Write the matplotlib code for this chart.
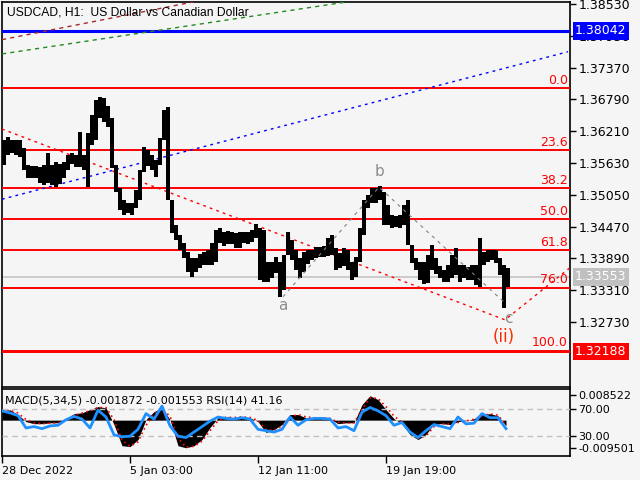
import numpy as np
import matplotlib
matplotlib.use("Agg")
import matplotlib.pyplot as plt
from matplotlib.transforms import blended_transform_factory

plt.rcParams["font.family"] = ["DejaVu Sans"]

BG = "#f5f5f5"

# USDCAD H1, bars grouped by 4 hours, starting 28 Dec 2022
group_size = 4
high = [1.3605, 1.3610, 1.3605, 1.3605, 1.3605, 1.3590, 1.3559, 1.3558, 1.3558, 1.3556,
        1.3559, 1.3581, 1.3559, 1.3565, 1.3561, 1.3565, 1.3578, 1.3581, 1.3578, 1.3620,
        1.3578, 1.3618, 1.3651, 1.3678, 1.3683, 1.3682, 1.3667, 1.3645, 1.3559, 1.3517,
        1.3496, 1.3490, 1.3490, 1.3514, 1.3550, 1.3592, 1.3587, 1.3578, 1.3569, 1.3609,
        1.3660, 1.3665, 1.3496, 1.3450, 1.3432, 1.3417, 1.3401, 1.3390, 1.3390, 1.3397,
        1.3401, 1.3404, 1.3417, 1.3441, 1.3445, 1.3437, 1.3439, 1.3437, 1.3435, 1.3437,
        1.3437, 1.3437, 1.3441, 1.3452, 1.3445, 1.3441, 1.3382, 1.3382, 1.3392, 1.3382,
        1.3395, 1.3437, 1.3423, 1.3404, 1.3390, 1.3401, 1.3404, 1.3404, 1.3410, 1.3410,
        1.3412, 1.3426, 1.3432, 1.3408, 1.3399, 1.3408, 1.3404, 1.3382, 1.3392, 1.3445,
        1.3496, 1.3505, 1.3517, 1.3517, 1.3521, 1.3510, 1.3486, 1.3468, 1.3466, 1.3468,
        1.3486, 1.3496, 1.3413, 1.3390, 1.3382, 1.3382, 1.3395, 1.3413, 1.3390, 1.3375,
        1.3368, 1.3377, 1.3395, 1.3408, 1.3377, 1.3377, 1.3373, 1.3377, 1.3377, 1.3426,
        1.3401, 1.3404, 1.3404, 1.3404, 1.3390, 1.3377, 1.3372]
low = [1.3559, 1.3578, 1.3581, 1.3578, 1.3574, 1.3550, 1.3536, 1.3536, 1.3536, 1.3527,
       1.3523, 1.3527, 1.3523, 1.3519, 1.3525, 1.3536, 1.3550, 1.3561, 1.3556, 1.3556,
       1.3550, 1.3519, 1.3596, 1.3605, 1.3645, 1.3638, 1.3629, 1.3554, 1.3510, 1.3477,
       1.3468, 1.3472, 1.3468, 1.3481, 1.3496, 1.3547, 1.3558, 1.3550, 1.3538, 1.3559,
       1.3605, 1.3496, 1.3435, 1.3423, 1.3404, 1.3390, 1.3364, 1.3355, 1.3364, 1.3372,
       1.3377, 1.3377, 1.3377, 1.3382, 1.3417, 1.3412, 1.3415, 1.3415, 1.3408, 1.3408,
       1.3417, 1.3415, 1.3419, 1.3426, 1.3350, 1.3346, 1.3346, 1.3353, 1.3362, 1.3319,
       1.3331, 1.3395, 1.3386, 1.3368, 1.3353, 1.3364, 1.3379, 1.3386, 1.3390, 1.3392,
       1.3392, 1.3393, 1.3395, 1.3368, 1.3372, 1.3375, 1.3368, 1.3350, 1.3355, 1.3382,
       1.3432, 1.3481, 1.3490, 1.3490, 1.3496, 1.3450, 1.3450, 1.3445, 1.3446, 1.3445,
       1.3450, 1.3413, 1.3381, 1.3368, 1.3350, 1.3342, 1.3344, 1.3368, 1.3361, 1.3353,
       1.3346, 1.3346, 1.3353, 1.3359, 1.3346, 1.3353, 1.3350, 1.3350, 1.3341, 1.3337,
       1.3377, 1.3382, 1.3386, 1.3381, 1.3359, 1.3298, 1.3337]

# indicator window, one reading every 8 bars
ind_step = 8
macd_x1000 = [3.2, 3.5, 1.9, -0.5, -1.2, -1.2, -0.9, -0.9, 0.5, 2.2,
              2.5, 3.6, 4.6, 4.2, -1.5, -8.7, -9.0, -6.6, 0.2, 2.9,
              4.2, 0.2, -8.7, -9.4, -8.7, -6.6, -2.5, 0.8, 1.2, 0.8,
              1.2, 0.8, -0.5, -4.2, -3.2, -1.5, 1.9, 1.9, 0.8, 0.8,
              0.8, 0.5, -1.2, -0.9, -0.9, 5.3, 8.3, 7.0, 3.6, 0.5,
              -1.2, -4.9, -6.6, -4.9, -1.2, -1.2, -1.5, -0.5, -0.2, 0.5,
              1.9, 2.2, 1.5, -1.9]
signal_x1000 = [3.0, 3.4, 2.4, 0.2, -0.9, -1.2, -1.0, -0.9, 0.1, 1.6,
                2.4, 3.2, 4.3, 4.3, 0.2, -6.8, -8.9, -7.4, -1.8, 2.0,
                3.8, 1.4, -6.2, -9.2, -8.9, -7.2, -3.6, -0.2, 1.0, 0.9,
                1.1, 0.9, -0.1, -3.2, -3.5, -2.0, 1.0, 1.9, 1.1, 0.8,
                0.8, 0.6, -0.7, -1.0, -0.9, 3.6, 7.6, 7.4, 4.6, 1.4,
                -0.7, -3.9, -6.1, -5.4, -2.2, -1.2, -1.4, -0.8, -0.3, 0.3,
                1.5, 2.1, 1.7, -1.6]
rsi = [67, 64, 60, 42, 44, 41, 45, 46, 54, 59,
       55, 42, 68, 58, 32, 29, 30, 40, 63, 55,
       74, 45, 30, 28, 36, 44, 52, 58, 56, 55,
       57, 55, 40, 38, 36, 40, 58, 46, 54, 56,
       56, 55, 42, 44, 38, 65, 72, 67, 60, 46,
       50, 36, 28, 38, 47, 44, 41, 58, 48, 49,
       63, 57, 57, 41]

price_ticks = [1.38530, 1.37950, 1.37370, 1.36790, 1.36210, 1.35630,
               1.35050, 1.34470, 1.33890, 1.33310, 1.32730]
time_ticks = [0, 128, 256, 384]
time_labels = ["28 Dec 2022", "5 Jan 03:00", "12 Jan 11:00", "19 Jan 19:00"]

fib_levels = [0.0, 23.6, 38.2, 50.0, 61.8, 76.0, 100.0]
fib_start = 1.36998
fib_end = 1.32210
blue_level = 1.38042
red_level = 1.32188
last_price = 1.33553

# trend lines as (bars, prices)
brown_line = ([0, 300], [1.3788, 1.3896])
green_line = ([0, 400], [1.3762, 1.3872])
blue_line = ([0, 566], [1.3497, 1.3766])
red_channel = ([0, 503, 570], [1.3625, 1.3277, 1.3375])
wave_abc = ([281, 377, 504], [1.3319, 1.3519, 1.3306])
wave_labels = [("a", 281, 1.3304), ("b", 377, 1.3547), ("c", 506, 1.3280)]

fig = plt.figure(figsize=(6.4, 4.8), dpi=100, facecolor=BG)
ax = fig.add_axes([2 / 640, 1 - 387 / 480, 568 / 640, 385 / 480], facecolor=BG)
ax2 = fig.add_axes([2 / 640, 1 - 456 / 480, 568 / 640, 67 / 480], facecolor=BG)

# price bars
bars_x = np.arange(len(high)) * group_size
hi = np.array(high)
lo = np.array(low)
ax.bar(bars_x, hi - lo, bottom=lo, width=group_size, align="edge",
       color="black", linewidth=0, zorder=4)

# levels
fib_prices = [fib_start - lv / 100 * (fib_start - fib_end) for lv in fib_levels]
trans = blended_transform_factory(ax.transAxes, ax.transData)
for lv, p in zip(fib_levels, fib_prices):
    ax.axhline(p, color="#ff0000", lw=1.4, zorder=3)
    ax.text(0.996, p + 0.0002, f"{lv:.1f}", color="#ff0000", fontsize=9,
            ha="right", va="bottom", transform=trans, zorder=6)
ax.axhline(red_level, color="#ff0000", lw=1.4, zorder=3)
ax.axhline(blue_level, color="#0000ff", lw=2.2, zorder=3)
ax.axhline(last_price, color="#c0c0c0", lw=1.1, zorder=2)

ax.plot(*brown_line, color="#a52a2a", lw=1, ls=(0, (3, 3)), zorder=3)
ax.plot(*green_line, color="#228b22", lw=1, ls=(0, (3, 3)), zorder=3)
ax.plot(*blue_line, color="#0000ff", lw=1, ls=(0, (2, 3)), zorder=3)
ax.plot(*red_channel, color="#ff0000", lw=1, ls=(0, (2, 3)), zorder=3)
ax.plot(*wave_abc, color="#808080", lw=0.8, ls=(0, (3, 4)), zorder=5)

for txt, bx, py in wave_labels:
    ax.text(bx, py, txt, color="#8c8c8c", fontsize=11, ha="center", va="center", zorder=6)
ax.text(502, 1.3246, "(ii)", color="#ff2a00", fontsize=12, ha="center", va="center", zorder=6)

ax.text(0.008, 0.972, "USDCAD, H1:  US Dollar vs Canadian Dollar", transform=ax.transAxes,
        fontsize=8.7, family="Liberation Sans", ha="left", va="center", zorder=6)

ax.set_xlim(0, 568)
ax.set_ylim(1.31545, 1.38567)
ax.set_xticks([])
ax.yaxis.tick_right()
ax.set_yticks(price_ticks)
ax.set_yticklabels([f"{p:.5f}" for p in price_ticks])
ax.tick_params(axis="y", direction="out", length=4, width=1, labelsize=9, pad=2)
for s in ax.spines.values():
    s.set_linewidth(1.2)

box_kw = dict(transform=trans, color="white", fontsize=9, ha="left", va="center",
              clip_on=False, zorder=10)
ax.text(1.009, blue_level, "1.38042", bbox=dict(boxstyle="square,pad=0.18", fc="#0000ff", ec="none"), **box_kw)
ax.text(1.009, last_price, "1.33553", bbox=dict(boxstyle="square,pad=0.18", fc="#c0c0c0", ec="none"), **box_kw)
ax.text(1.009, red_level, "1.32188", bbox=dict(boxstyle="square,pad=0.18", fc="#ff0000", ec="none"), **box_kw)

# MACD + RSI window
ind_x = np.arange(len(macd_x1000)) * ind_step
macd = np.array(macd_x1000) / 1000
signal = np.array(signal_x1000) / 1000
ax2.fill_between(ind_x, 0, macd, color="black", lw=0, zorder=2)
ax2.plot(ind_x, signal, color="#ff0000", lw=1.2, ls=(0, (1, 2)), zorder=3)
ax2.set_ylim(-0.0122, 0.0106)
ax2.set_xlim(0, 568)
ax2.set_xticks(time_ticks)
ax2.set_xticklabels(time_labels, ha="left")
ax2.tick_params(axis="x", direction="out", length=5, width=1, labelsize=8, pad=2)
for s in ax2.spines.values():
    s.set_linewidth(1.2)

ax3 = ax2.twinx()
ax3.axhline(70, color="#c0c0c0", lw=1, ls=(0, (4, 3)), zorder=1)
ax3.axhline(30, color="#c0c0c0", lw=1, ls=(0, (4, 3)), zorder=1)
ax3.plot(ind_x, rsi, color="#1e90ff", lw=2, zorder=4)
ax3.set_ylim(1, 99)
ax3.set_yticks([70, 30])
ax3.set_yticklabels(["70.00", "30.00"])
ax3.tick_params(axis="y", direction="out", length=4, width=1, labelsize=8, pad=2)
for s in ax3.spines.values():
    s.set_visible(False)
ax3.text(0.006, 0.83, "MACD(5,34,5) -0.001872 -0.001553 RSI(14) 41.16", transform=ax3.transAxes,
         fontsize=8, ha="left", va="center", zorder=6)

# twinx moved the MACD scale to the left; put it back on the right
ax2.yaxis.tick_right()
ax2.set_yticks([0.008522, -0.009501])
ax2.set_yticklabels(["0.008522", "-0.009501"])
ax2.tick_params(axis="y", direction="out", length=4, width=1, labelsize=8, pad=2)

fig.savefig("out.png", dpi=100, facecolor=BG)
